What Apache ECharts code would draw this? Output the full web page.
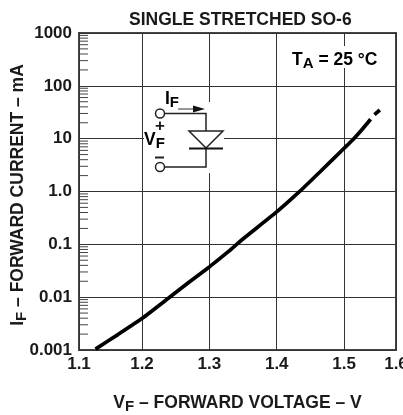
<!DOCTYPE html>
<html>
<head>
<meta charset="utf-8">
<style>
html, body { margin: 0; padding: 0; background: #fff; overflow: hidden; }
#chart { width: 403px; height: 415px; }
</style>
<script src="https://cdn.jsdelivr.net/npm/echarts@6/dist/echarts.min.js"></script>
</head>
<body>
<div id="chart"></div>
<script>
// the scale is cut short at both ends, the edge labels still read 1.1 and 1.6
var xMin = 1.1065;
var xMax = 1.577;
var xTicks = [1.1065, 1.2, 1.3, 1.4, 1.5, 1.577];
var xTickLabels = ["1.1", "1.2", "1.3", "1.4", "1.5", "1.6"];
var yTickLabels = ["0.001", "0.01", "0.1", "1.0", "10", "100", "1000"];
var yMinorTicks = [
	0.002, 0.003, 0.004, 0.005, 0.006, 0.007, 0.008, 0.009,
	0.02, 0.03, 0.04, 0.05, 0.06, 0.07, 0.08, 0.09,
	0.2, 0.3, 0.4, 0.5, 0.6, 0.7, 0.8, 0.9,
	2, 3, 4, 5, 6, 7, 8, 9,
	20, 30, 40, 50, 60, 70, 80, 90,
	200, 300, 400, 500, 600, 700, 800, 900
];

var voltage = [1.131, 1.1648, 1.2004, 1.239, 1.2687, 1.3004, 1.328, 1.348, 1.4003, 1.432, 1.464, 1.5, 1.5126, 1.526, 1.5393];
var current = [0.00104, 0.00198, 0.00398, 0.00952, 0.0188, 0.0378, 0.0727, 0.121, 0.415, 0.948, 2.34, 6.58, 9.44, 14.6, 23.3];
var dashVoltage = [1.545, 1.553];
var dashCurrent = [28.4, 34.9];

var textColor = '#1a1a1a';
var fontName = '"Liberation Sans", Arial, sans-serif';

function pairs(a, b){
	var out = [];
	for(var i=0; i<a.length; i++)
		out.push([a[i], b[i]]);
	return out;
}

var minorData = [];
for(var i=0; i<yMinorTicks.length; i++)
	minorData.push([xMin, yMinorTicks[i]]);

var subStyle = { fontFamily: fontName, fontWeight: 'bold', color: textColor, fontSize: 15, padding: [7, 0, 0, 0] };
var mainStyle = { fontFamily: fontName, fontWeight: 'bold', color: textColor, fontSize: 17.5 };

var myChart = echarts.init(document.getElementById('chart'), null, { renderer: 'canvas' });

var options = {
	animation: false,
	backgroundColor: '#fff',
	title: {
		text: 'SINGLE STRETCHED SO-6',
		left: 124,
		top: 6,
		textStyle: { fontFamily: fontName, fontWeight: 'bold', fontSize: 17.5, color: textColor }
	},
	grid: {
		left: 79, right: 7, top: 33, bottom: 65,
		outerBoundsMode: 'none',
		show: true, borderColor: '#444', borderWidth: 2, backgroundColor: 'transparent'
	},
	xAxis: {
		type: 'value',
		min: xMin,
		max: xMax,
		name: '{m|V}{s|F}{m| – FORWARD VOLTAGE – V}',
		nameLocation: 'middle',
		nameMoveOverlap: false,
		nameGap: 42,
		nameTextStyle: { rich: { m: mainStyle, s: subStyle } },
		axisLine: { show: false },
		axisTick: { show: false, customValues: xTicks },
		splitLine: { show: true, lineStyle: { color: '#333', width: 1 } },
		axisLabel: {
			customValues: xTicks,
			margin: 6,
			fontFamily: fontName, fontWeight: 'bold', fontSize: 17, color: textColor,
			formatter: function(v){
				return xTickLabels[xTicks.indexOf(v)];
			}
		}
	},
	yAxis: {
		type: 'log',
		logBase: 10,
		min: 0.001,
		max: 1000,
		name: '{m|I}{s|F}{m| – FORWARD CURRENT – mA}',
		nameLocation: 'middle',
		nameMoveOverlap: false,
		nameGap: 50,
		nameRotate: 90,
		nameTextStyle: { padding: [0, 7, 0, 0], rich: { m: mainStyle, s: subStyle } },
		axisLine: { show: false },
		axisTick: { show: false },
		splitLine: { show: true, lineStyle: { color: '#333', width: 1 } },
		minorTick: { show: false },
		axisLabel: {
			margin: 7,
			fontFamily: fontName, fontWeight: 'bold', fontSize: 17, color: textColor,
			formatter: function(v, i){
				return yTickLabels[i];
			}
		}
	},
	series: [
		{
			type: 'custom',
			silent: true,
			clip: false,
			data: minorData,
			renderItem: function(params, api){
				var p = api.coord([api.value(0), api.value(1)]);
				return {
					type: 'line',
					shape: { x1: p[0], y1: p[1], x2: p[0] + 9, y2: p[1] },
					style: { stroke: '#444', lineWidth: 1 }
				};
			}
		},
		{
			type: 'line',
			smooth: 0.15,
			showSymbol: false,
			silent: true,
			data: pairs(voltage, current),
			lineStyle: { color: '#000', width: 3.7 }
		},
		{
			type: 'line',
			showSymbol: false,
			silent: true,
			data: pairs(dashVoltage, dashCurrent),
			lineStyle: { color: '#000', width: 3.7 }
		}
	],
	graphic: [
		// clears the grid behind the diode symbol and the temperature note
		{ type: 'rect', z: 1, shape: { x: 144, y: 102, width: 80, height: 71 }, style: { fill: '#fff' } },
		{ type: 'rect', z: 1, shape: { x: 340, y: 46, width: 8, height: 22 }, style: { fill: '#fff' } },
		{ type: 'circle', z: 5, shape: { cx: 160, cy: 113.5, r: 4.5 }, style: { fill: '#fff', stroke: '#222', lineWidth: 1.5 } },
		{ type: 'circle', z: 5, shape: { cx: 160, cy: 167, r: 4.5 }, style: { fill: '#fff', stroke: '#222', lineWidth: 1.5 } },
		{ type: 'polyline', z: 5, shape: { points: [[164.5, 113.5], [206, 113.5], [206, 131]] }, style: { stroke: '#222', lineWidth: 1.5, fill: 'none' } },
		{ type: 'polyline', z: 5, shape: { points: [[206, 148], [206, 167], [164.5, 167]] }, style: { stroke: '#222', lineWidth: 1.5, fill: 'none' } },
		{ type: 'polygon', z: 5, shape: { points: [[189, 131], [223, 131], [206, 148]] }, style: { fill: '#fff', stroke: '#222', lineWidth: 1.5 } },
		{ type: 'line', z: 5, shape: { x1: 189, y1: 148.5, x2: 223, y2: 148.5 }, style: { stroke: '#111', lineWidth: 2 } },
		{ type: 'line', z: 5, shape: { x1: 178, y1: 109, x2: 195, y2: 109 }, style: { stroke: '#333', lineWidth: 1 } },
		{ type: 'polygon', z: 5, shape: { points: [[193, 105.5], [205, 109], [193, 112.5]] }, style: { fill: '#111' } },
		{ type: 'text', z: 5, x: 165, y: 88, style: { text: '{m|I}{s|F}', rich: { m: mainStyle, s: subStyle } } },
		{ type: 'text', z: 5, x: 160, y: 126, style: { text: '+', align: 'center', verticalAlign: 'middle', fontFamily: fontName, fontWeight: 'bold', fontSize: 17, fill: textColor } },
		{ type: 'text', z: 5, x: 144, y: 129, style: { text: '{m|V}{s|F}', rich: { m: mainStyle, s: subStyle } } },
		{ type: 'rect', z: 5, shape: { x: 155, y: 156.5, width: 9, height: 2 }, style: { fill: '#222' } },
		{ type: 'text', z: 5, x: 292, y: 49, style: { text: '{m|T}{s|A}{m| = 25 °C}', rich: { m: mainStyle, s: subStyle } } }
	]
};

myChart.setOption(options);

window.onresize = function(event) {
	myChart.resize();
};
</script>
</body>
</html>
